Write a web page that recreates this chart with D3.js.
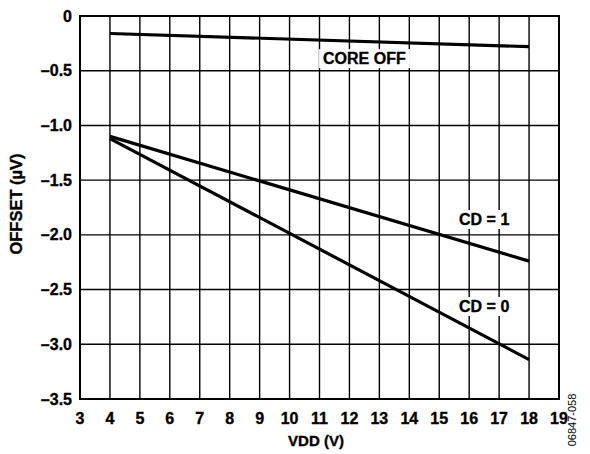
<!DOCTYPE html>
<html><head><meta charset="utf-8">
<script src="https://cdn.jsdelivr.net/npm/d3@7"></script>
<style>body{margin:0;background:#fff}svg{display:block}text{font-family:"Liberation Sans",Arial,sans-serif;font-weight:bold;fill:#000;stroke:#000;stroke-width:0.35px}</style>
</head><body><svg id="c" width="590" height="454"></svg>
<script>
const xTicks = [3,4,5,6,7,8,9,10,11,12,13,14,15,16,17,18,19];
const yTicks = [0,-0.5,-1.0,-1.5,-2.0,-2.5,-3.0,-3.5];
const vdd = [4, 18];
const coreOff = [-0.16, -0.28];
const cd1 = [-1.10, -2.24];
const cd0 = [-1.12, -3.14];
const seriesNames = ["CORE OFF", "CD = 1", "CD = 0"];
const labelPos = [[12.5,-0.44],[16.5,-1.91],[16.5,-2.705]];

const svg = d3.select("#c");
const m = {l:80, r:559, t:16, b:399};
const x = d3.scaleLinear().domain([3,19]).range([m.l,m.r]);
const y = d3.scaleLinear().domain([0,-3.5]).range([m.t,m.b]);
const fmtY = v => v===0 ? "0" : "\u2013" + Math.abs(v).toFixed(1);

const g = svg.append("g");
g.selectAll("line.v").data(xTicks).join("line")
  .attr("x1",d=>x(d)).attr("x2",d=>x(d)).attr("y1",m.t).attr("y2",m.b)
  .attr("stroke","#000").attr("stroke-width",1.4);
g.selectAll("line.h").data(yTicks).join("line")
  .attr("y1",d=>y(d)).attr("y2",d=>y(d)).attr("x1",m.l).attr("x2",m.r)
  .attr("stroke","#000").attr("stroke-width",1.4);
svg.append("rect").attr("x",m.l).attr("y",m.t).attr("width",m.r-m.l).attr("height",m.b-m.t)
  .attr("fill","none").attr("stroke","#000").attr("stroke-width",2);

const labs = svg.append("g");
seriesNames.forEach((n,i)=>{
  const t = labs.append("text").attr("x",x(labelPos[i][0])).attr("y",y(labelPos[i][1]))
    .attr("text-anchor","middle").attr("font-size",16).text(n);
  const bb = t.node().getBBox();
  labs.insert("rect","text").attr("x",bb.x-4).attr("y",bb.y-1).attr("width",bb.width+8).attr("height",bb.height+2).attr("fill","#fff");
});

const line = d3.line().x((d,i)=>x(vdd[i])).y(d=>y(d));
[coreOff, cd1, cd0].forEach(s=>{
  svg.append("path").attr("d",line(s)).attr("fill","none").attr("stroke","#000").attr("stroke-width",3.2);
});

svg.selectAll("text.xt").data(xTicks).join("text").attr("class","xt")
  .attr("x",d=>x(d)).attr("y",424).attr("text-anchor","middle").attr("font-size",16).text(d=>d);
svg.selectAll("text.yt").data(yTicks).join("text").attr("class","yt")
  .attr("x",72).attr("y",d=>y(d)+5.5).attr("text-anchor","end").attr("font-size",16).text(fmtY);

svg.append("text").attr("x",316).attr("y",445.5).attr("text-anchor","middle").attr("font-size",15).text("VDD (V)");
svg.append("text").attr("transform","translate(22,204) rotate(-90)").attr("text-anchor","middle").attr("font-size",16.5).text("OFFSET (\u00B5V)");
svg.append("text").attr("transform","translate(576,420) rotate(-90)").attr("text-anchor","middle").attr("font-size",11)
  .style("font-weight","normal").style("stroke","none").text("06847-058");
</script></body></html>
